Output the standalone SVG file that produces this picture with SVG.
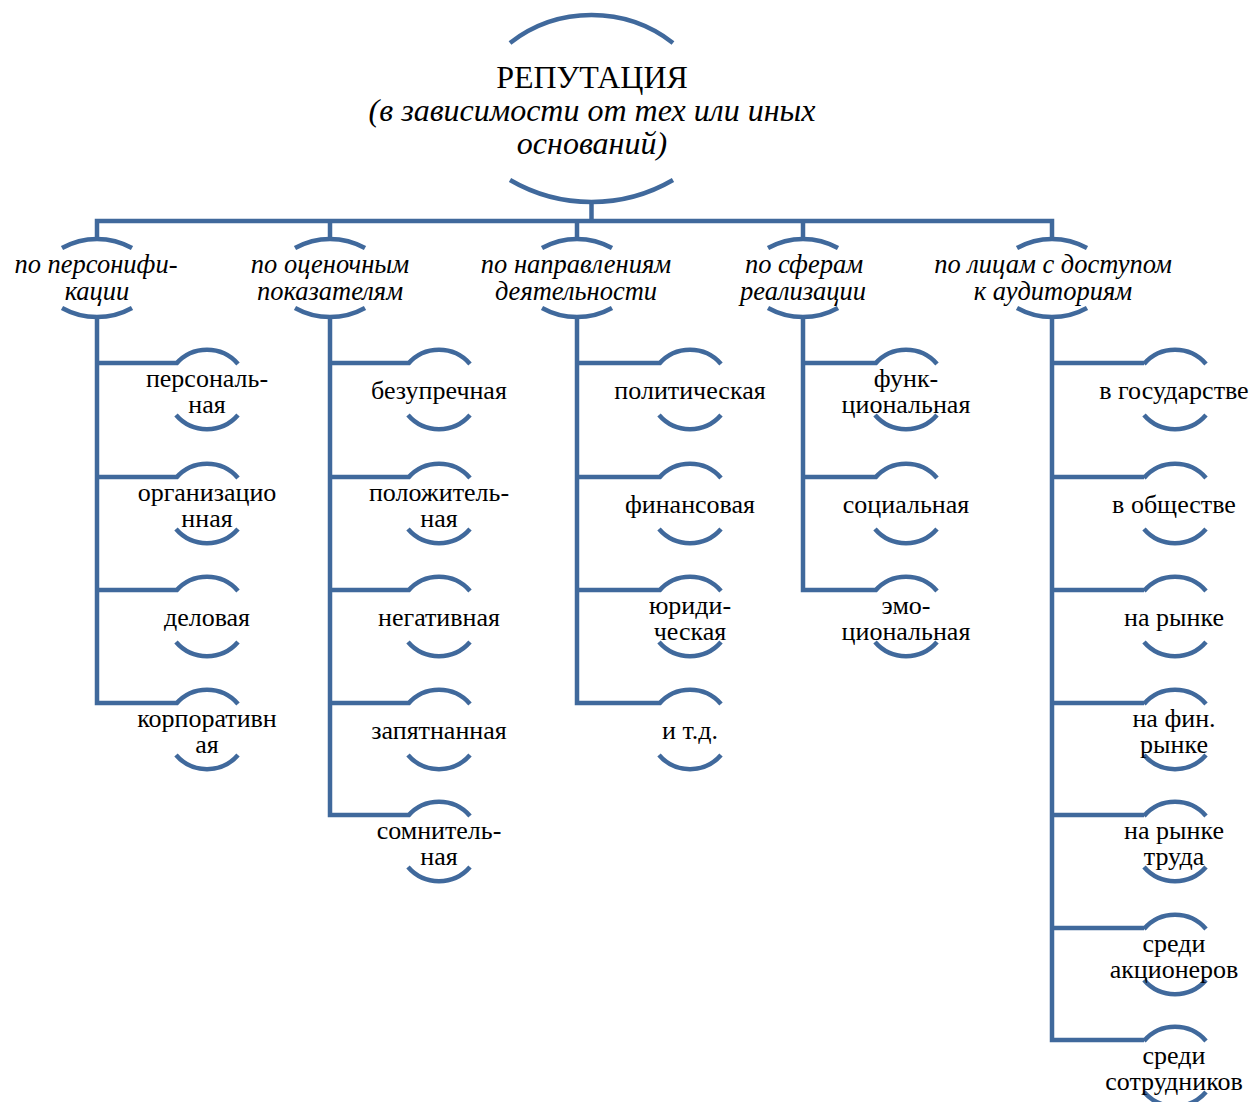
<svg xmlns="http://www.w3.org/2000/svg" width="1254" height="1102" viewBox="0 0 1254 1102">
<style>
.a{fill:none;stroke:#40699C;stroke-width:4.5}
.l{fill:none;stroke:#40699C;stroke-width:4.5;stroke-linejoin:miter}
text{font-family:"Liberation Serif","Times New Roman",serif;fill:#000;text-anchor:middle}
.c{font-style:italic;font-size:26.5px}
.f{font-size:26px}
.r{font-size:32px}
.ri{font-size:32px;font-style:italic}
</style>
<rect width="1254" height="1102" fill="#fff"/>
<g id="connectors">
<path class="l" d="M97,240 V221 H1052 V240"/>
<path class="l" d="M591.5,202 V221"/>
<path class="l" d="M330,221 V240 M577,221 V240 M803,221 V240"/>
<path class="l" d="M97,317 V703 H177 M97,363 H177 M97,477 H177 M97,590 H177"/>
<path class="l" d="M330,317 V815 H409 M330,363 H409 M330,477 H409 M330,590 H409 M330,703 H409"/>
<path class="l" d="M577,317 V703 H660 M577,363 H660 M577,477 H660 M577,590 H660"/>
<path class="l" d="M803,317 V590 H876 M803,363 H876 M803,477 H876"/>
<path class="l" d="M1052,317 V1040 H1144 M1052,363 H1144 M1052,477 H1144 M1052,590 H1144 M1052,703 H1144 M1052,815 H1144 M1052,928 H1144"/>
</g>
<g id="root">
<path class="a" d="M510,43 A133,133 0 0 1 673,43"/>
<path class="a" d="M510,180 A162,162 0 0 0 673,180"/>
<text class="r" x="592" y="88">РЕПУТАЦИЯ</text>
<text class="ri" x="592" y="121">(в зависимости от тех или иных</text>
<text class="ri" x="592" y="154">оснований)</text>
</g>
<defs>
<path id="ct" class="a" d="M-35,248 A72,72 0 0 1 35,248"/>
<path id="cb" class="a" d="M-35,308 A72,72 0 0 0 35,308"/>
<g id="lf"><path class="a" d="M-31,1 A41,41 0 0 1 31,1"/><path class="a" d="M-31,52 A41,41 0 0 0 31,52"/></g>
</defs>
<g id="cat1"><use href="#ct" x="97"/><use href="#cb" x="97"/><text class="c" x="96" y="273">по персонифи-</text><text class="c" x="97" y="300">кации</text></g>
<g id="cat2"><use href="#ct" x="330"/><use href="#cb" x="330"/><text class="c" x="330" y="273">по оценочным</text><text class="c" x="330" y="300">показателям</text></g>
<g id="cat3"><use href="#ct" x="577"/><use href="#cb" x="577"/><text class="c" x="576" y="273">по направлениям</text><text class="c" x="576" y="300">деятельности</text></g>
<g id="cat4"><use href="#ct" x="803"/><use href="#cb" x="803"/><text class="c" x="804" y="273">по сферам</text><text class="c" x="803" y="300">реализации</text></g>
<g id="cat5"><use href="#ct" x="1052"/><use href="#cb" x="1052"/><text class="c" x="1053" y="273">по лицам с доступом</text><text class="c" x="1053" y="300">к аудиториям</text></g>

<g id="n1-1"><use href="#lf" x="207" y="363"/><text class="f" x="207" y="387">персональ-</text><text class="f" x="207" y="413">ная</text></g>
<g id="n1-2"><use href="#lf" x="207" y="477"/><text class="f" x="207" y="501">организацио</text><text class="f" x="207" y="527">нная</text></g>
<g id="n1-3"><use href="#lf" x="207" y="590"/><text class="f" x="207" y="626">деловая</text></g>
<g id="n1-4"><use href="#lf" x="207" y="703"/><text class="f" x="207" y="727">корпоративн</text><text class="f" x="207" y="753">ая</text></g>

<g id="n2-1"><use href="#lf" x="439" y="363"/><text class="f" x="439" y="399">безупречная</text></g>
<g id="n2-2"><use href="#lf" x="439" y="477"/><text class="f" x="439" y="501">положитель-</text><text class="f" x="439" y="527">ная</text></g>
<g id="n2-3"><use href="#lf" x="439" y="590"/><text class="f" x="439" y="626">негативная</text></g>
<g id="n2-4"><use href="#lf" x="439" y="703"/><text class="f" x="439" y="739">запятнанная</text></g>
<g id="n2-5"><use href="#lf" x="439" y="815"/><text class="f" x="439" y="839">сомнитель-</text><text class="f" x="439" y="865">ная</text></g>

<g id="n3-1"><use href="#lf" x="690" y="363"/><text class="f" x="690" y="399">политическая</text></g>
<g id="n3-2"><use href="#lf" x="690" y="477"/><text class="f" x="690" y="513">финансовая</text></g>
<g id="n3-3"><use href="#lf" x="690" y="590"/><text class="f" x="690" y="614">юриди-</text><text class="f" x="690" y="640">ческая</text></g>
<g id="n3-4"><use href="#lf" x="690" y="703"/><text class="f" x="690" y="739">и т.д.</text></g>

<g id="n4-1"><use href="#lf" x="906" y="363"/><text class="f" x="906" y="387">функ-</text><text class="f" x="906" y="413">циональная</text></g>
<g id="n4-2"><use href="#lf" x="906" y="477"/><text class="f" x="906" y="513">социальная</text></g>
<g id="n4-3"><use href="#lf" x="906" y="590"/><text class="f" x="906" y="614">эмо-</text><text class="f" x="906" y="640">циональная</text></g>

<g id="n5-1"><use href="#lf" x="1175" y="363"/><text class="f" x="1174" y="399">в государстве</text></g>
<g id="n5-2"><use href="#lf" x="1175" y="477"/><text class="f" x="1174" y="513">в обществе</text></g>
<g id="n5-3"><use href="#lf" x="1175" y="590"/><text class="f" x="1174" y="626">на рынке</text></g>
<g id="n5-4"><use href="#lf" x="1175" y="703"/><text class="f" x="1174" y="727">на фин.</text><text class="f" x="1174" y="753">рынке</text></g>
<g id="n5-5"><use href="#lf" x="1175" y="815"/><text class="f" x="1174" y="839">на рынке</text><text class="f" x="1174" y="865">труда</text></g>
<g id="n5-6"><use href="#lf" x="1175" y="928"/><text class="f" x="1174" y="952">среди</text><text class="f" x="1174" y="978">акционеров</text></g>
<g id="n5-7"><use href="#lf" x="1175" y="1040"/><text class="f" x="1174" y="1064">среди</text><text class="f" x="1174" y="1090">сотрудников</text></g>
</svg>
